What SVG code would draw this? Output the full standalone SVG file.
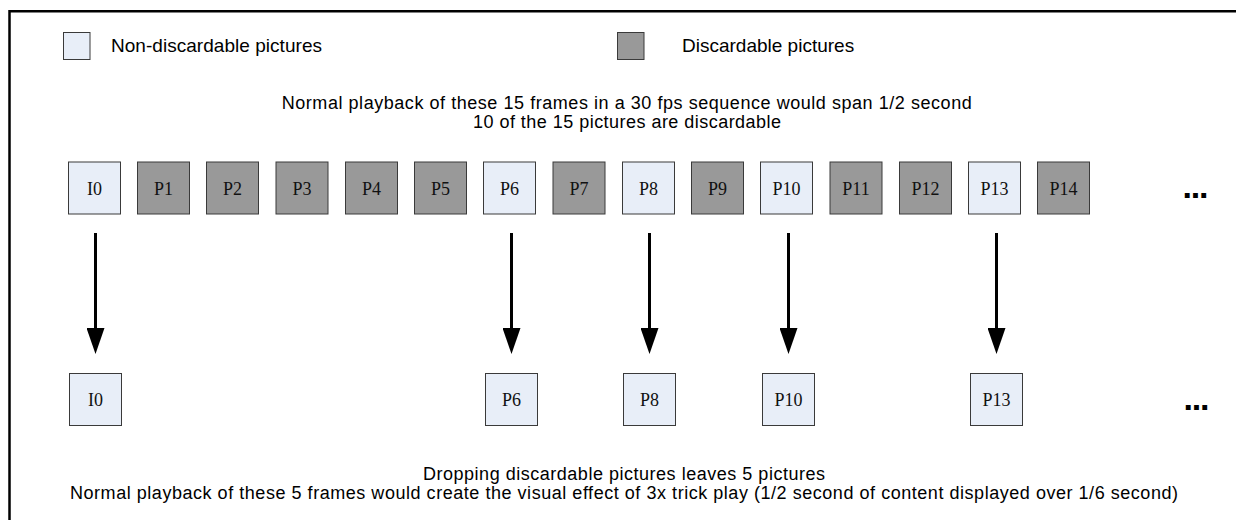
<svg xmlns="http://www.w3.org/2000/svg" width="1236" height="520" viewBox="0 0 1236 520">
  <style>
    .bg { fill: #ffffff; }
    .frame { fill: none; stroke: #000000; stroke-width: 2.5; }
    .nd { fill: #E8EEF8; stroke: #3a3a3a; stroke-width: 1; }
    .d { fill: #999999; stroke: #3a3a3a; stroke-width: 1; }
    .lbl { font-family: "Liberation Serif", "Times New Roman", serif; font-size: 18px; fill: #111111; text-anchor: middle; }
    .txt { font-family: "Liberation Sans", Arial, sans-serif; font-size: 18px; fill: #000000; }
    .leg { font-family: "Liberation Sans", Arial, sans-serif; font-size: 19px; fill: #000000; }
    .dots { font-family: "Liberation Sans", Arial, sans-serif; font-size: 34px; font-weight: bold; fill: #000000; }
    .arr { fill: none; stroke: #000000; stroke-width: 3; marker-end: url(#ah); }
  </style>
  <defs>
    <marker id="ah" viewBox="0 0 26 18" refX="0" refY="9" markerWidth="26" markerHeight="18" markerUnits="userSpaceOnUse" orient="auto">
      <path d="M0,0 L26,9 L0,18 Z" fill="#000000"/>
    </marker>
  </defs>
  <rect class="bg" x="0" y="0" width="1236" height="520"/>
  <rect class="frame" x="9.5" y="11.25" width="1400" height="700"/>

  <g id="legend">
    <rect class="nd" x="63.5" y="32.5" width="26.5" height="27"/>
    <text class="leg" x="111" y="52" textLength="211" lengthAdjust="spacing">Non-discardable pictures</text>
    <rect class="d" x="617.5" y="32.5" width="26.5" height="27"/>
    <text class="leg" x="682" y="52">Discardable pictures</text>
  </g>

  <g id="caption-top">
    <text class="txt" x="626.7" y="108.5" text-anchor="middle" textLength="690" lengthAdjust="spacing">Normal playback of these 15 frames in a 30 fps sequence would span 1/2 second</text>
    <text class="txt" x="627" y="127.5" text-anchor="middle" textLength="308" lengthAdjust="spacing">10 of the 15 pictures are discardable</text>
  </g>

  <g id="top-row">
    <g id="t-I0"><rect class="nd" x="68.5" y="162" width="52" height="52"/><text class="lbl" x="94.5" y="194.5">I0</text></g>
    <g id="t-P1"><rect class="d" x="137.5" y="162" width="52" height="52"/><text class="lbl" x="163.5" y="194.5">P1</text></g>
    <g id="t-P2"><rect class="d" x="206.5" y="162" width="52" height="52"/><text class="lbl" x="232.5" y="194.5">P2</text></g>
    <g id="t-P3"><rect class="d" x="276" y="162" width="52" height="52"/><text class="lbl" x="302" y="194.5">P3</text></g>
    <g id="t-P4"><rect class="d" x="345.5" y="162" width="52" height="52"/><text class="lbl" x="371.5" y="194.5">P4</text></g>
    <g id="t-P5"><rect class="d" x="414.5" y="162" width="52" height="52"/><text class="lbl" x="440.5" y="194.5">P5</text></g>
    <g id="t-P6"><rect class="nd" x="483.5" y="162" width="52" height="52"/><text class="lbl" x="509.5" y="194.5">P6</text></g>
    <g id="t-P7"><rect class="d" x="553" y="162" width="52" height="52"/><text class="lbl" x="579" y="194.5">P7</text></g>
    <g id="t-P8"><rect class="nd" x="622.5" y="162" width="52" height="52"/><text class="lbl" x="648.5" y="194.5">P8</text></g>
    <g id="t-P9"><rect class="d" x="691.5" y="162" width="52" height="52"/><text class="lbl" x="717.5" y="194.5">P9</text></g>
    <g id="t-P10"><rect class="nd" x="760.5" y="162" width="52" height="52"/><text class="lbl" x="786.5" y="194.5">P10</text></g>
    <g id="t-P11"><rect class="d" x="830" y="162" width="52" height="52"/><text class="lbl" x="856" y="194.5">P11</text></g>
    <g id="t-P12"><rect class="d" x="899.5" y="162" width="52" height="52"/><text class="lbl" x="925.5" y="194.5">P12</text></g>
    <g id="t-P13"><rect class="nd" x="968.5" y="162" width="52" height="52"/><text class="lbl" x="994.5" y="194.5">P13</text></g>
    <g id="t-P14"><rect class="d" x="1037.5" y="162" width="52" height="52"/><text class="lbl" x="1063.5" y="194.5">P14</text></g>
    <text class="dots" x="1182.5" y="198" textLength="26" lengthAdjust="spacing">...</text>
  </g>

  <g id="connectors">
    <path class="arr" d="M95.5,233 V328"/>
    <path class="arr" d="M511.5,233 V328"/>
    <path class="arr" d="M649.5,233 V328"/>
    <path class="arr" d="M788.5,233 V328"/>
    <path class="arr" d="M996.5,233 V328"/>
  </g>

  <g id="bottom-row">
    <g id="b-I0"><rect class="nd" x="69.5" y="373.5" width="52" height="52"/><text class="lbl" x="95.5" y="406">I0</text></g>
    <g id="b-P6"><rect class="nd" x="485.5" y="373.5" width="52" height="52"/><text class="lbl" x="511.5" y="406">P6</text></g>
    <g id="b-P8"><rect class="nd" x="623.5" y="373.5" width="52" height="52"/><text class="lbl" x="649.5" y="406">P8</text></g>
    <g id="b-P10"><rect class="nd" x="762.5" y="373.5" width="52" height="52"/><text class="lbl" x="788.5" y="406">P10</text></g>
    <g id="b-P13"><rect class="nd" x="970.5" y="373.5" width="52" height="52"/><text class="lbl" x="996.5" y="406">P13</text></g>
    <text class="dots" x="1183.5" y="410" textLength="26" lengthAdjust="spacing">...</text>
  </g>

  <g id="caption-bottom">
    <text class="txt" x="624" y="480" text-anchor="middle" textLength="402" lengthAdjust="spacing">Dropping discardable pictures leaves 5 pictures</text>
    <text class="txt" x="624" y="499" text-anchor="middle" textLength="1108" lengthAdjust="spacing">Normal playback of these 5 frames would create the visual effect of 3x trick play (1/2 second of content displayed over 1/6 second)</text>
  </g>
</svg>
